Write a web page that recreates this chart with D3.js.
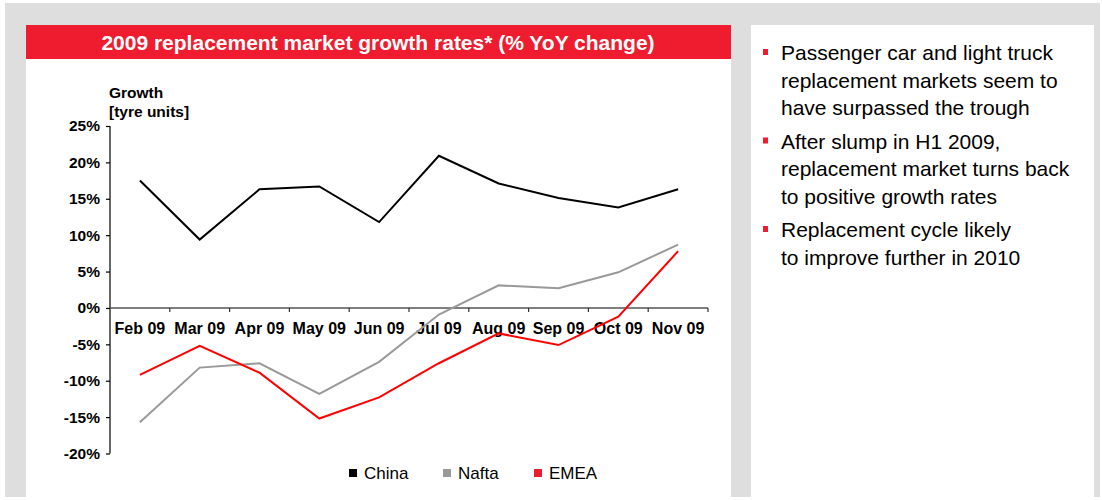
<!DOCTYPE html>
<html>
<head>
  <meta charset="utf-8">
  <title>replacement market growth</title>
  <script src="https://d3js.org/d3.v7.min.js"></script>
  <style>
    body { margin: 0; background: #fff; font-family: "Liberation Sans", Arial, sans-serif; }
    .yaxis text, .xaxis text { font-weight: bold; fill: #000; }
  </style>
</head>
<body>
<div id="chart"></div>
<script>
// data
var months = ["Feb 09", "Mar 09", "Apr 09", "May 09", "Jun 09", "Jul 09", "Aug 09", "Sep 09", "Oct 09", "Nov 09"];
var china = [17.5, 9.4, 16.3, 16.7, 11.8, 20.9, 17.1, 15.1, 13.8, 16.3];
var nafta = [-15.7, -8.2, -7.6, -11.8, -7.4, -0.9, 3.1, 2.7, 4.9, 8.7];
var emea  = [-9.2, -5.2, -8.9, -15.2, -12.3, -7.6, -3.5, -5.1, -1.2, 7.8];
var yTicks = [25, 20, 15, 10, 5, 0, -5, -10, -15, -20];
var seriesNames = ["China", "Nafta", "EMEA"];
var bullets = [
  ["Passenger car and light truck", "replacement markets seem to", "have surpassed the trough"],
  ["After slump in H1 2009,", "replacement market turns back", "to positive growth rates"],
  ["Replacement cycle likely", "to improve further in 2010"]
];

var W = 1102, H = 500;
var svg = d3.select("#chart").append("svg")
  .attr("width", W).attr("height", H);

// grey frame + panels
svg.append("rect").attr("x", 5).attr("y", 3).attr("width", 1095).attr("height", 494).attr("fill", "#dedede");
svg.append("rect").attr("x", 26).attr("y", 25).attr("width", 705).attr("height", 472).attr("fill", "#fff");
svg.append("rect").attr("x", 751).attr("y", 25).attr("width", 343).attr("height", 472).attr("fill", "#fff");

// title bar
svg.append("rect").attr("x", 26).attr("y", 25).attr("width", 705).attr("height", 34).attr("fill", "#ee1c2e");
svg.append("text").attr("x", 378).attr("y", 49.5).attr("text-anchor", "middle")
  .attr("fill", "#fff").attr("font-weight", "bold").attr("font-size", "21px")
  .text("2009 replacement market growth rates* (% YoY change)");

// scales
var x = d3.scaleBand().domain(months).range([110, 708]);
var y = d3.scaleLinear().domain([-20, 25]).range([453.5, 126]);

// y axis
var yAxis = svg.append("g").attr("class", "yaxis")
  .attr("transform", "translate(110,0)")
  .call(d3.axisLeft(y).tickValues(yTicks).tickSize(4).tickPadding(6)
    .tickFormat(function(d) { return d + "%"; }));
yAxis.selectAll("line, path").attr("stroke", "#000").attr("stroke-width", 1.2);
yAxis.select(".domain").attr("d", "M0," + y(25) + "V" + y(-20));
yAxis.selectAll(".tick text").attr("font-size", "15.5px");

// x axis at 0%
var xAxis = svg.append("g").attr("class", "xaxis")
  .attr("transform", "translate(0," + y(0) + ")")
  .call(d3.axisBottom(x).tickSize(0).tickPadding(15));
xAxis.select(".domain").attr("d", "M110,0H708").attr("stroke", "#555").attr("stroke-width", 1.6);
xAxis.selectAll(".tick text").attr("font-size", "16px");
// tick marks at category boundaries
xAxis.selectAll(".sep").data(months).enter().append("line")
  .attr("x1", function(d) { return x(d) + x.bandwidth(); })
  .attr("x2", function(d) { return x(d) + x.bandwidth(); })
  .attr("y1", 0).attr("y2", 4).attr("stroke", "#333").attr("stroke-width", 1.2);

// axis title
svg.append("text").attr("x", 109).attr("y", 98).attr("font-weight", "bold").attr("font-size", "15.5px").text("Growth");
svg.append("text").attr("x", 109).attr("y", 117).attr("font-weight", "bold").attr("font-size", "15.5px").text("[tyre units]");

// lines
var line = d3.line()
  .x(function(d, i) { return x(months[i]) + x.bandwidth() / 2; })
  .y(function(d) { return y(d); });
var series = [
  { values: nafta, color: "#999999" },
  { values: emea, color: "#ff0000" },
  { values: china, color: "#000000" }
];
svg.selectAll(".series").data(series).enter().append("path")
  .attr("d", function(d) { return line(d.values); })
  .attr("fill", "none").attr("stroke", function(d) { return d.color; })
  .attr("stroke-width", 2).attr("stroke-linejoin", "miter");

// legend
var legendX = [349, 443, 534];
var legendColors = ["#000000", "#999999", "#ee1c2e"];
var lg = svg.selectAll(".lg").data(seriesNames).enter().append("g")
  .attr("transform", function(d, i) { return "translate(" + legendX[i] + ",469)"; });
lg.append("rect").attr("width", 8).attr("height", 8).attr("fill", function(d, i) { return legendColors[i]; });
lg.append("text").attr("x", 15).attr("y", 10).attr("font-size", "17px").text(function(d) { return d; });

// bullet text
var lineY = 60, step = 27.5;
bullets.forEach(function(b, bi) {
  svg.append("rect").attr("x", 763).attr("y", lineY - 11).attr("width", 5).attr("height", 6).attr("fill", "#ee1c2e");
  b.forEach(function(t) {
    svg.append("text").attr("x", 781).attr("y", lineY).attr("font-size", "21px").attr("fill", "#000").text(t);
    lineY += step;
  });
  lineY += 6;
});
</script>
</body>
</html>
